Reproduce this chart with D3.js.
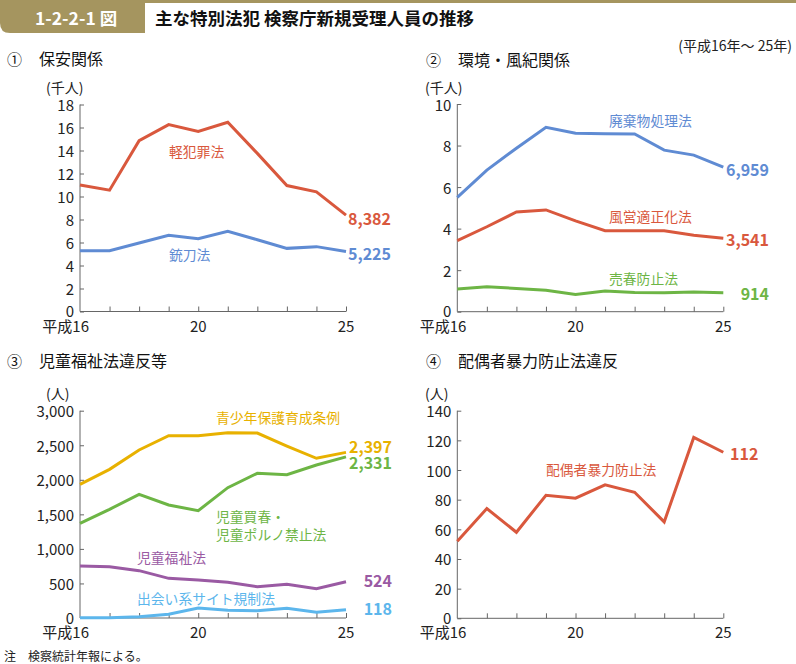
<!DOCTYPE html>
<html><head><meta charset="utf-8">
<script src="https://cdn.jsdelivr.net/npm/d3@7"></script>
<style>
html,body{margin:0;padding:0;background:#fff;}
svg text{font-family:"Noto Sans CJK JP","Noto Sans",sans-serif;}
</style></head>
<body>
<svg id="chart" width="796" height="664"></svg>
<script>
// ---- data ----
const years = [16,17,18,19,20,21,22,23,24,25];
const yearLabels = {16:"平成16",20:"20",25:"25"};

// ① 保安関係 (千人)
const keihanzai = [11.0,10.55,14.85,16.25,15.65,16.45,13.75,10.95,10.40,8.382];
const juto      = [5.28,5.28,5.95,6.62,6.33,6.98,6.24,5.49,5.64,5.225];
// ② 環境・風紀関係 (千人)
const haikibutsu = [5.50,6.82,7.87,8.88,8.59,8.57,8.56,7.78,7.54,6.959];
const fuei       = [3.42,4.09,4.80,4.90,4.37,3.90,3.90,3.90,3.68,3.541];
const baishun    = [1.09,1.20,1.12,1.03,0.83,1.00,0.93,0.91,0.95,0.914];
// ③ 児童福祉法違反等 (人)
const seishonen  = [1934,2151,2431,2639,2639,2682,2677,2489,2311,2397];
const jidoKaishun= [1370,1573,1790,1635,1553,1886,2094,2074,2214,2331];
const jidoFukushi= [753,743,685,574,550,516,453,487,425,524];
const deai       = [4,3,19,53,145,111,106,140,82,118];
// ④ 配偶者暴力防止法違反 (人)
const haigusha   = [52,74,58,83,81,90,85,65,122,112];

const yTicks1 = [0,2,4,6,8,10,12,14,16,18];
const yTicks2 = [0,2,4,6,8,10];
const yTicks3 = [0,500,1000,1500,2000,2500,3000];
const yTicks4 = [0,20,40,60,80,100,120,140];

const C = {red:"#d9583d", blue:"#5f8bd3", green:"#6db545", gold:"#e8b100", purple:"#9a5aa3", lblue:"#5cb6ec"};

const svg = d3.select("#chart");

// ---- header ----
const gold = "#a5955f";
svg.append("rect").attr("x",0).attr("y",0).attr("width",796).attr("height",3).attr("fill",gold);
svg.append("path").attr("d","M0,0 H145 V33 H10 Q0,33 0,23 Z").attr("fill",gold);
svg.append("text").attr("x",35).attr("y",17).attr("dominant-baseline","central")
  .attr("font-size",17.5).attr("font-weight","bold").attr("fill","#fff").text("1-2-2-1 図");
svg.append("text").attr("x",155).attr("y",17).attr("dominant-baseline","central")
  .attr("font-size",17.5).attr("font-weight","bold").attr("fill","#111").text("主な特別法犯 検察庁新規受理人員の推移");
svg.append("text").attr("x",792).attr("y",45).attr("dominant-baseline","central").attr("text-anchor","end")
  .attr("font-size",14).attr("fill","#222").text("(平成16年～ 25年)");
svg.append("text").attr("x",4).attr("y",655).attr("dominant-baseline","central")
  .attr("font-size",12).attr("fill","#222").text("注　検察統計年報による。");

function panel(cfg){
  const g = svg.append("g");
  // titles
  g.append("text").attr("x",cfg.tx).attr("y",cfg.ty).attr("dominant-baseline","central")
    .attr("font-size",15).attr("fill","#111").text(cfg.num);
  g.append("text").attr("x",cfg.tx+32).attr("y",cfg.ty).attr("dominant-baseline","central")
    .attr("font-size",16).attr("fill","#111").text(cfg.title);
  g.append("text").attr("x",cfg.ux).attr("y",cfg.uy).attr("dominant-baseline","central")
    .attr("font-size",14).attr("fill","#222").text(cfg.unit);

  const x = d3.scaleLinear().domain([16,25]).range([cfg.x0,cfg.x1]);
  const y = d3.scaleLinear().domain([0,cfg.ymax]).range([cfg.y0,cfg.yTop]);

  // y axis
  const ya = g.append("g").attr("transform",`translate(${cfg.x0},0)`)
    .call(d3.axisRight(y).tickValues(cfg.yticks).tickSize(4).tickFormat(""));
  ya.select(".domain").attr("d",`M0,${cfg.yTop}V${cfg.y0}`);
  ya.selectAll("line,path").attr("stroke","#666");
  g.selectAll(null).data(cfg.yticks).enter().append("text")
    .attr("x",cfg.x0-6).attr("y",d=>y(d)-(d===0?1:0)).attr("dominant-baseline","central").attr("text-anchor","end")
    .attr("font-family","'Noto Sans',sans-serif")
    .attr("font-size",15).attr("fill","#222").text(cfg.fmt);

  // x axis
  const xa = g.append("g").attr("transform",`translate(0,${cfg.y0})`)
    .call(d3.axisTop(x).tickValues(years.slice(1)).tickSize(5).tickFormat(""));
  xa.select(".domain").attr("d",`M${cfg.x0},0H${cfg.x1}`);
  xa.selectAll("line,path").attr("stroke","#666");
  Object.keys(yearLabels).forEach(k=>{
    const v=+k;
    const t = g.append("text").attr("y",cfg.y0+13.5).attr("dominant-baseline","central")
      .attr("font-size",15).attr("fill","#222");
    if(v===16){ t.attr("x",x(v)+9).attr("text-anchor","end").text(yearLabels[k]); }
    else { t.attr("x",x(v)).attr("text-anchor","middle").text(yearLabels[k]); }
  });

  const line = d3.line().x((d,i)=>x(years[i])).y(d=>y(d));
  cfg.series.forEach(s=>{
    g.append("path").datum(s.data).attr("d",line).attr("fill","none")
      .attr("stroke",s.color).attr("stroke-width",3).attr("stroke-linejoin","miter");
    s.names.forEach((n,i)=>{
      g.append("text").attr("x",s.nx).attr("y",s.ny+i*17.5).attr("dominant-baseline","central")
        .attr("font-size",13.8).attr("fill",s.color).text(n);
    });
    g.append("text").attr("x",s.ex).attr("y",s.ey).attr("dominant-baseline","central")
      .attr("text-anchor",s.ea||"end").attr("font-size",16).attr("font-weight","bold")
      .attr("font-family","'Noto Sans',sans-serif")
      .attr("fill",s.color).text(s.endLabel);
  });
}

const f1 = d=>d3.format("d")(d);
const fc = d=>d3.format(",")(d);

panel({num:"①",title:"保安関係",tx:7,ty:58,unit:"(千人)",ux:46,uy:87,
  x0:80,x1:346,y0:311.5,yTop:104.5,ymax:18,yticks:yTicks1,fmt:f1,
  series:[
    {data:keihanzai,color:C.red,names:["軽犯罪法"],nx:169,ny:151,endLabel:"8,382",ex:391,ey:218},
    {data:juto,color:C.blue,names:["銃刀法"],nx:169,ny:254,endLabel:"5,225",ex:391,ey:253}
  ]});
panel({num:"②",title:"環境・風紀関係",tx:426,ty:59,unit:"(千人)",ux:425,uy:87,
  x0:457.3,x1:723.3,y0:311.7,yTop:104,ymax:10,yticks:yTicks2,fmt:f1,
  series:[
    {data:haikibutsu,color:C.blue,names:["廃棄物処理法"],nx:609,ny:120,endLabel:"6,959",ex:769,ey:169},
    {data:fuei,color:C.red,names:["風営適正化法"],nx:609,ny:216,endLabel:"3,541",ex:769,ey:239},
    {data:baishun,color:C.green,names:["売春防止法"],nx:609,ny:278,endLabel:"914",ex:769,ey:293}
  ]});
panel({num:"③",title:"児童福祉法違反等",tx:7,ty:360,unit:"(人)",ux:46,uy:393,
  x0:80,x1:346,y0:618,yTop:410.7,ymax:3000,yticks:yTicks3,fmt:fc,
  series:[
    {data:seishonen,color:C.gold,names:["青少年保護育成条例"],nx:216,ny:417,endLabel:"2,397",ex:392,ey:446},
    {data:jidoKaishun,color:C.green,names:["児童買春・","児童ポルノ禁止法"],nx:216,ny:516,endLabel:"2,331",ex:392,ey:462},
    {data:jidoFukushi,color:C.purple,names:["児童福祉法"],nx:137,ny:557,endLabel:"524",ex:392,ey:580},
    {data:deai,color:C.lblue,names:["出会い系サイト規制法"],nx:137,ny:598,endLabel:"118",ex:392,ey:608}
  ]});
panel({num:"④",title:"配偶者暴力防止法違反",tx:426,ty:360,unit:"(人)",ux:425,uy:393,
  x0:457.3,x1:723.3,y0:618.3,yTop:410.7,ymax:140,yticks:yTicks4,fmt:f1,
  series:[
    {data:haigusha,color:C.red,names:["配偶者暴力防止法"],nx:546,ny:469,endLabel:"112",ex:730,ey:453,ea:"start"}
  ]});
</script>
</body></html>
